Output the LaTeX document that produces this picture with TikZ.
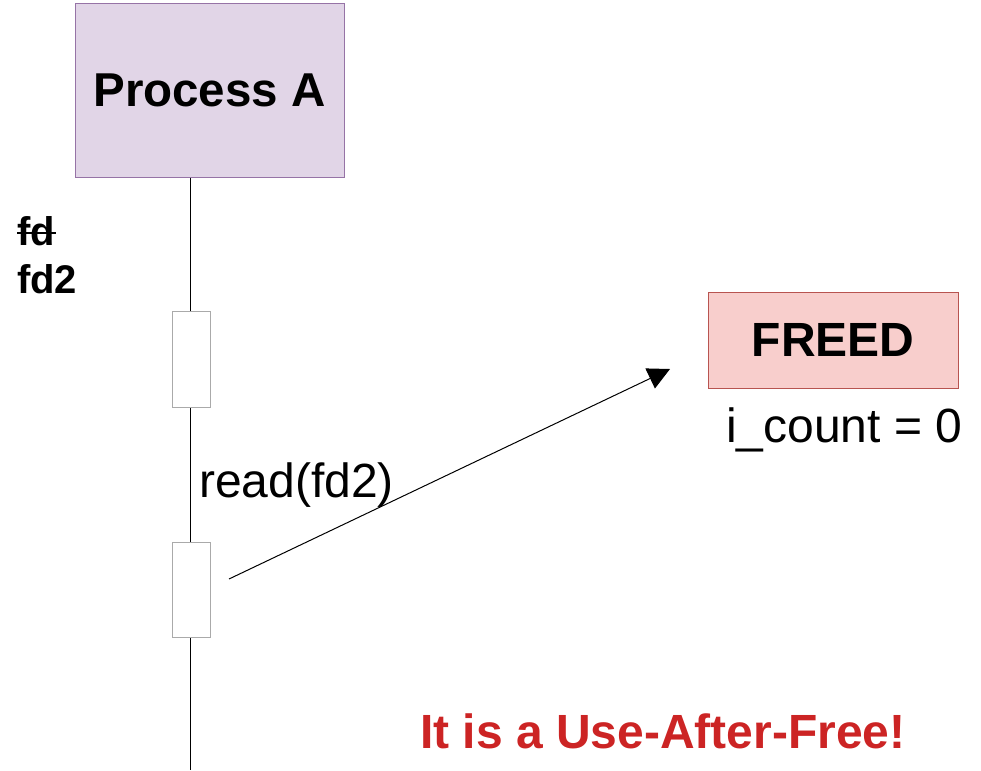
\documentclass[tikz,border=0pt]{standalone}
\usepackage{fontspec}
\setmainfont{Liberation Sans}
\usetikzlibrary{arrows.meta}
\definecolor{procfill}{HTML}{E1D5E7}
\definecolor{procdraw}{HTML}{9673A6}
\definecolor{freefill}{HTML}{F8CECC}
\definecolor{freedraw}{HTML}{B85450}
\definecolor{actdraw}{RGB}{170,170,170}
\definecolor{alertred}{RGB}{204,36,36}
\tikzset{
  procbox/.style={draw=procdraw, fill=procfill, line width=1pt, minimum width=269pt, minimum height=173pt, inner sep=0pt, font=\fontsize{47.5}{57}\selectfont\bfseries},
  freebox/.style={draw=freedraw, fill=freefill, line width=1pt, minimum width=250pt, minimum height=96pt, inner sep=0pt, font=\fontsize{48}{57}\selectfont\bfseries},
  actbox/.style={draw=actdraw, fill=white, line width=1pt, minimum width=38pt, minimum height=95pt, inner sep=0pt},
  lbl/.style={inner sep=0pt, anchor=base west, font=\fontsize{48}{57}\selectfont},
  fdlbl/.style={inner sep=0pt, anchor=base west, font=\fontsize{40}{48}\selectfont\bfseries},
  alert/.style={inner sep=0pt, anchor=base west, text=alertred, font=\fontsize{48}{57}\selectfont\bfseries},
  msg/.style={line width=1pt, -{Triangle[length=22pt,width=22pt]}}
}
\begin{document}
\begin{tikzpicture}[x=1pt,y=-1pt]
\useasboundingbox (0,0) rectangle (981,770);
\node[procbox] (procA) at (209.5,90.5) {Process A};
\coordinate (lifeEnd) at (190,770);
\draw[line width=1pt] (procA.south -| lifeEnd) -- (lifeEnd);
\node[actbox, minimum height=96pt] (act1) at (191,359) {};
\node[actbox] (act2) at (191,589.5) {};
\node[freebox] (freed) at (833,340) {FREED};
\node[lbl] (icount) at (726,442) {i\_count = 0};
\node[lbl] (read) at (199,497) {read(fd2)};
\node[fdlbl] (fd) at (17,245) {fd};
\draw[line width=2.5pt] ([yshift=12pt]fd.base west) -- ([xshift=1pt,yshift=12pt]fd.base east);
\node[fdlbl] (fdtwo) at (17,293) {fd2};
\node[alert] (uaf) at (420,748) {It is a Use-After-Free!};
\coordinate (msgStart) at (229,579);
\coordinate (msgEnd) at (670,369);
\draw[msg] (msgStart) -- (msgEnd);
\end{tikzpicture}
\end{document}
